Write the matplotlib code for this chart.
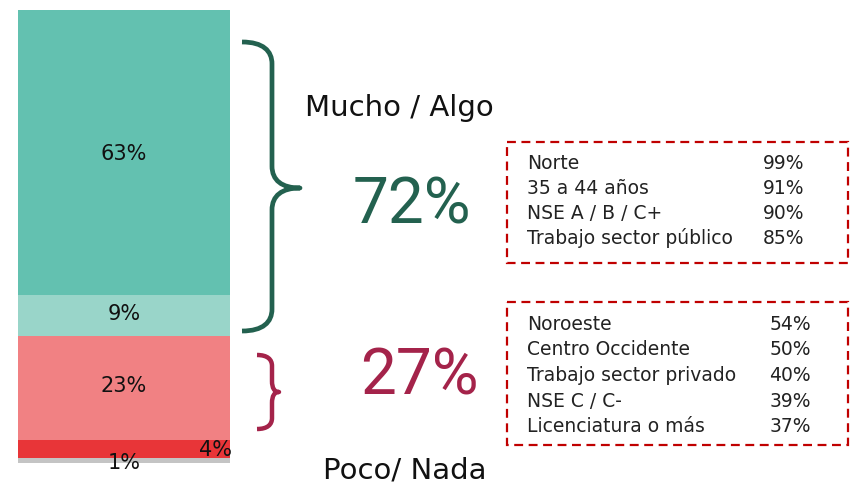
import matplotlib
matplotlib.use('Agg')
import matplotlib.pyplot as plt
from matplotlib.path import Path
from matplotlib.patches import PathPatch, Rectangle

# stacked bar values (top to bottom)
seg_labels = ['63%', '9%', '23%', '4%', '1%']
seg_values = [63, 9, 23, 4, 1]
seg_colors = ['#63c1b0', '#99d5c9', '#f18183', '#e83538', '#c4c4c4']

alto_pct = '72%'
bajo_pct = '27%'

alto_rows = ['Norte', '35 a 44 años', 'NSE A / B / C+', 'Trabajo sector público']
alto_vals = ['99%', '91%', '90%', '85%']
bajo_rows = ['Noroeste', 'Centro Occidente', 'Trabajo sector privado', 'NSE C / C-', 'Licenciatura o más']
bajo_vals = ['54%', '50%', '40%', '39%', '37%']

W, H = 851, 486
fig = plt.figure(figsize=(W / 100, H / 100), dpi=100)

# bar axes
ax = fig.add_axes([18 / W, (H - 463) / H, 212 / W, 453 / H])
bottom = 100
for lab, v, c in zip(seg_labels, seg_values, seg_colors):
    bottom -= v
    ax.bar(0, v, bottom=bottom, width=1, color=c, edgecolor='none')
ax.set_xlim(-0.5, 0.5)
ax.set_ylim(0, 100)
ax.axis('off')

# labels inside the bar
lab_font = dict(fontsize=15, color='#111111', ha='center', va='center')
ax.text(0, 100 - 63 / 2 - 0.3, '63%', **lab_font)
ax.text(0, 100 - 63 - 4.5 + 0.3, '9%', **lab_font)
ax.text(0, 100 - 72 - 11.5 + 0.5, '23%', **lab_font)
ax.text(0.51, 2.8, '4%', fontsize=15, color='#111111', ha='right', va='center')
ax.text(0, 0.0, '1%', **lab_font)

# overlay in pixel coordinates
ov = fig.add_axes([0, 0, 1, 1])
ov.set_xlim(0, W)
ov.set_ylim(H, 0)
ov.axis('off')


def brace(x0, xv, xt, y0, ym, y1, r, color, lw):
    verts = [(x0, y0), (x0 + (xv - x0) * 0.7, y0), (xv, y0 + r * 0.4), (xv, y0 + r),
             (xv, ym - r),
             (xv, ym - r * 0.35), (xv + (xt - xv) * 0.35, ym), (xt, ym),
             (xv + (xt - xv) * 0.35, ym), (xv, ym + r * 0.35), (xv, ym + r),
             (xv, y1 - r),
             (xv, y1 - r * 0.4), (x0 + (xv - x0) * 0.7, y1), (x0, y1)]
    codes = [Path.MOVETO, Path.CURVE4, Path.CURVE4, Path.CURVE4,
             Path.LINETO,
             Path.CURVE4, Path.CURVE4, Path.CURVE4,
             Path.CURVE4, Path.CURVE4, Path.CURVE4,
             Path.LINETO,
             Path.CURVE4, Path.CURVE4, Path.CURVE4]
    ov.add_patch(PathPatch(Path(verts, codes), fill=False, edgecolor=color,
                           lw=lw, capstyle='butt', joinstyle='round'))


green = '#23614f'
crimson = '#a4234a'
brace(242, 272, 300, 42, 188, 331, 22, green, 3.4)
brace(257, 272, 279, 355, 392, 429, 11, crimson, 3.2)

ov.text(305, 108, 'Mucho / Algo', fontsize=21, color='#111111', ha='left', va='center')
ov.text(323, 470, 'Poco/ Nada', fontsize=21, color='#111111', ha='left', va='center')
big = dict(fontsize=46, ha='center', va='center',
           family=['Roboto', 'DejaVu Sans'], weight='normal')
ov.text(412, 205, alto_pct, color=green, **big)
ov.text(419, 376, bajo_pct, color=crimson, **big)

box_red = '#c00000'
ov.add_patch(Rectangle((507, 142), 341, 121, fill=False, edgecolor=box_red,
                       lw=1.6, linestyle=(0, (4, 2.5))))
ov.add_patch(Rectangle((507, 302), 341, 143, fill=False, edgecolor=box_red,
                       lw=1.6, linestyle=(0, (4, 2.5))))

row_font = dict(fontsize=13.5, color='#222222', va='center')
for i, (r, v) in enumerate(zip(alto_rows, alto_vals)):
    y = 163 + i * 25
    ov.text(527, y, r, ha='left', **row_font)
    ov.text(804, y, v, ha='right', **row_font)
for i, (r, v) in enumerate(zip(bajo_rows, bajo_vals)):
    y = 324 + i * 25.7
    ov.text(527, y, r, ha='left', **row_font)
    ov.text(811, y, v, ha='right', **row_font)

fig.savefig('out.png', dpi=100, facecolor='white')
